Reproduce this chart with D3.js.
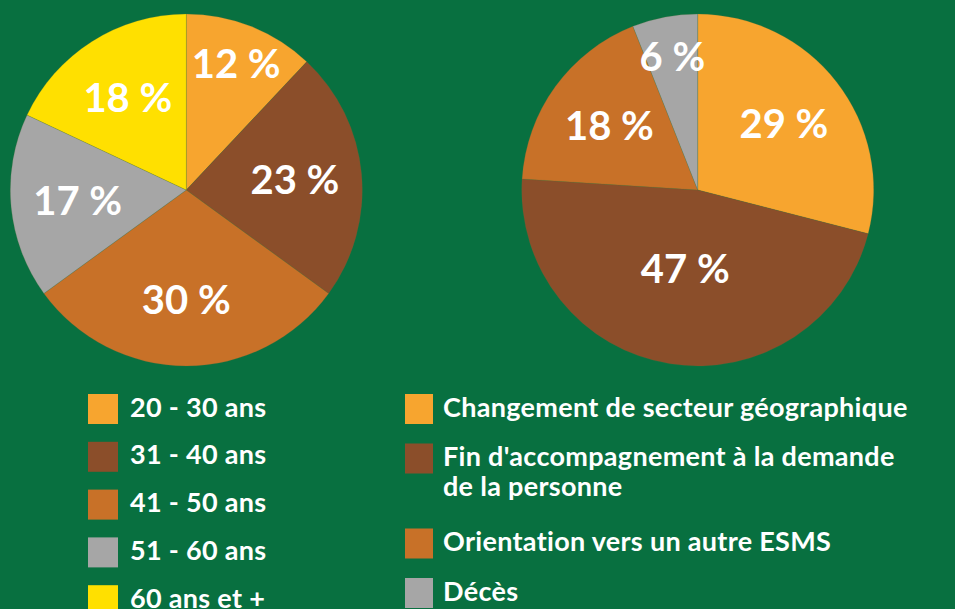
<!DOCTYPE html>
<html><head><meta charset="utf-8">
<script src="https://cdn.jsdelivr.net/npm/d3@7/dist/d3.min.js"></script>
<style>
html,body{margin:0;padding:0;background:#087040;}
svg{display:block;}
</style></head>
<body>
<svg id="chart" width="955" height="609"></svg>
<script>
// ---- data ----
const ageCategories = ["20 - 30 ans", "31 - 40 ans", "41 - 50 ans", "51 - 60 ans", "60 ans et +"];
const ageValues = [12, 23, 30, 17, 18];
const ageColors = ["#F7A52F", "#8B4E2A", "#C87128", "#A6A6A6", "#FFE000"];

const reasonCategories = ["Changement de secteur géographique", "Fin d'accompagnement à la demande\nde la personne", "Orientation vers un autre ESMS", "Décès"];
const reasonValues = [29, 47, 18, 6];
const reasonColors = ["#F7A52F", "#8B4E2A", "#C87128", "#A6A6A6"];

const svg = d3.select("#chart");
const FONT = "Lato, 'Open Sans', sans-serif";

svg.append("rect").attr("width", 955).attr("height", 609).attr("fill", "#087040");

function drawPie(cx, cy, r, cats, vals, cols) {
  const color = d3.scaleOrdinal().domain(cats).range(cols);
  const pie = d3.pie().sort(null).value(d => d.v);
  const data = pie(cats.map((c, i) => ({c, v: vals[i]})));
  const total = d3.sum(vals);
  const arc = d3.arc().innerRadius(0).outerRadius(r);
  const g = svg.append("g").attr("transform", `translate(${cx},${cy})`);
  g.selectAll("path").data(data).join("path")
    .attr("d", arc)
    .attr("fill", d => color(d.data.c))
    .attr("stroke", "rgba(90,110,60,0.35)")
    .attr("stroke-width", 0.6);
  g.selectAll("text").data(data).join("text")
    .attr("transform", d => {
      const f = d.data.v / total;
      const k = f < 0.15 ? 0.77 : (f > 0.4 ? 0.45 : 0.62);
      const la = d3.arc().innerRadius(r * k).outerRadius(r * k);
      const [x, y] = la.centroid(d);
      return `translate(${x},${y})`;
    })
    .attr("text-anchor", "middle")
    .attr("dy", "0.36em")
    .attr("fill", "#fff")
    .attr("font-family", FONT)
    .attr("font-weight", "bold")
    .attr("font-size", 40)
    .text(d => d.data.v + " %");
}

drawPie(186.3, 190, 176, ageCategories, ageValues, ageColors);
drawPie(697.7, 190, 176, reasonCategories, reasonValues, reasonColors);

// ---- legends ----
function drawLegend(x0, y0, sw, tx, step, lineH, cats, cols) {
  const color = d3.scaleOrdinal().domain(cats).range(cols);
  let y = y0;
  cats.forEach(c => {
    const lines = c.split("\n");
    svg.append("rect").attr("x", x0).attr("y", y).attr("width", sw).attr("height", 30)
      .attr("fill", color(c));
    const t = svg.append("text").attr("x", tx).attr("y", y + 22.5)
      .attr("fill", "#fff").attr("font-family", FONT).attr("font-weight", "bold")
      .attr("font-size", 27).attr("letter-spacing", 0.3);
    lines.forEach((l, i) => {
      t.append("tspan").attr("x", tx).attr("dy", i === 0 ? 0 : lineH).text(l);
    });
    y += step + (lines.length - 1) * (lineH + 6);
  });
}
drawLegend(88, 394, 30, 130, 47.8, 29.5, ageCategories, ageColors);
drawLegend(405, 394, 28, 443, 49.5, 29.5, reasonCategories, reasonColors);
</script>
</body></html>
